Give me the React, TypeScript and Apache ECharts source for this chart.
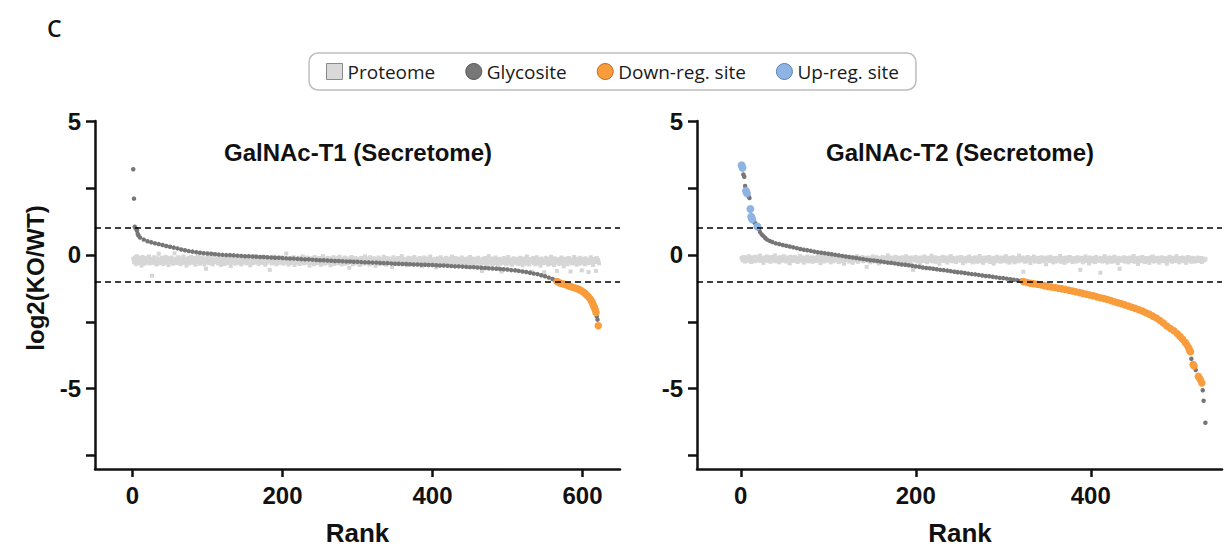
import React, { useEffect, useRef } from "react";
import * as echarts from "echarts";

// ---------- DATA ----------
const X_TICKS_T1 = [0, 200, 400, 600];
const X_TICKS_T2 = [0, 200, 400];
const Y_TICKS = [-7.5, -5, -2.5, 0, 2.5, 5];
const Y_LABELS = [-5, 0, 5];
const THRESHOLDS = [1, -1];

// GalNAc-T1: proteome value for each rank (rank = position + 1)
const T1_PROTEOME = [
  -0.15,-0.28,-0.1,-0.22,-0.35,-0.05,-0.2,-0.3,-0.12,-0.25,-0.18,-0.4,-0.08,-0.27,-0.16,-0.33,-0.21,-0.11,-0.29,-0.19,
  -0.24,-0.06,-0.32,-0.14,-0.22,-0.78,-0.17,-0.3,-0.09,-0.26,-0.2,-0.36,-0.13,-0.23,0.04,-0.31,-0.18,-0.27,-0.11,-0.21,
  -0.34,-0.15,-0.25,-0.07,-0.29,-0.19,-0.12,-0.38,-0.22,-0.16,-0.28,-0.1,-0.24,-0.33,-0.18,0.06,-0.26,-0.14,-0.31,-0.2,
  -0.09,-0.27,-0.17,-0.35,-0.23,-0.13,-0.3,-0.06,-0.21,-0.28,-0.15,-0.4,-0.19,-0.25,-0.11,-0.32,-0.2,-0.08,-0.26,-0.16,
  -0.3,-0.22,-0.12,-0.37,-0.18,-0.27,-0.05,-0.24,-0.14,-0.33,-0.21,-0.1,-0.29,-0.17,-0.23,-0.36,-0.13,-0.52,-0.26,-0.19,
  -0.08,-0.31,-0.2,-0.15,-0.28,-0.11,-0.35,-0.24,-0.18,0.03,-0.27,-0.22,-0.14,-0.32,-0.19,-0.09,-0.25,-0.38,-0.16,-0.29,
  -0.21,-0.12,-0.34,-0.17,-0.26,-0.07,-0.23,-0.3,-0.15,-0.2,-0.42,-0.1,-0.28,-0.18,-0.24,-0.13,-0.33,-0.22,-0.06,-0.27,
  -0.16,-0.3,-0.2,-0.11,-0.36,-0.25,-0.14,-0.29,-0.19,-0.08,-0.23,-0.32,-0.17,-0.27,-0.12,-0.21,-0.39,-0.15,-0.26,-0.1,
  -0.31,-0.18,-0.24,-0.05,-0.28,-0.2,-0.13,-0.34,-0.22,-0.16,-0.27,-0.09,-0.3,-0.19,-0.25,-0.14,-0.37,-0.21,-0.11,-0.29,
  -0.17,-0.23,-0.56,-0.2,-0.12,-0.32,-0.26,-0.15,-0.07,-0.28,-0.19,-0.35,-0.24,-0.13,-0.3,-0.18,-0.22,-0.1,-0.27,-0.16,
  -0.33,-0.21,-0.14,-0.29,0.05,-0.25,-0.18,-0.36,-0.2,-0.12,-0.31,-0.23,-0.16,-0.27,-0.09,-0.38,-0.22,-0.15,-0.3,-0.19,
  -0.26,-0.11,-0.34,-0.2,-0.17,-0.28,-0.06,-0.24,-0.32,-0.14,-0.21,-0.29,-0.1,-0.25,-0.18,-0.4,-0.23,-0.13,-0.3,-0.16,
  -0.22,-0.35,-0.08,-0.27,-0.19,-0.14,-0.31,-0.24,-0.12,-0.2,-0.37,-0.17,-0.28,-0.05,-0.23,-0.33,-0.15,-0.26,-0.21,-0.11,
  -0.3,-0.18,-0.25,-0.39,-0.13,-0.22,-0.29,-0.09,-0.34,-0.2,-0.16,-0.27,-0.12,-0.31,-0.24,-0.07,-0.28,-0.19,-0.36,-0.15,
  -0.21,-0.26,-0.1,-0.33,-0.18,-0.23,-0.3,-0.14,-0.48,-0.2,-0.27,-0.08,-0.25,-0.35,-0.17,-0.22,-0.12,-0.29,-0.19,-0.32,
  -0.15,-0.24,-0.38,-0.2,-0.11,-0.28,-0.17,-0.33,-0.23,-0.06,-0.26,-0.19,-0.31,-0.14,-0.22,-0.36,-0.09,-0.27,-0.18,-0.25,
  -0.3,-0.13,-0.21,-0.41,-0.16,-0.28,-0.24,-0.1,-0.34,-0.19,-0.26,-0.15,-0.22,-0.32,-0.07,-0.29,-0.2,-0.37,-0.12,-0.25,
  -0.18,-0.31,-0.23,-0.14,-0.27,-0.45,-0.2,-0.09,-0.33,-0.24,-0.16,-0.29,-0.21,-0.12,-0.36,-0.26,-0.19,-0.3,-0.05,-0.23,
  -0.28,-0.15,-0.34,-0.22,-0.17,-0.39,-0.25,-0.11,-0.3,-0.2,-0.27,-0.13,-0.32,-0.24,-0.18,-0.08,-0.35,-0.21,-0.28,-0.16,
  -0.23,-0.33,-0.12,-0.26,-0.2,-0.42,-0.17,-0.29,-0.1,-0.24,-0.31,-0.19,-0.36,-0.14,-0.27,-0.22,-0.06,-0.3,-0.18,-0.25,
  -0.35,-0.21,-0.15,-0.28,-0.47,-0.24,-0.13,-0.32,-0.2,-0.26,-0.09,-0.3,-0.18,-0.38,-0.23,-0.16,-0.29,-0.11,-0.25,-0.34,
  -0.19,-0.27,-0.14,-0.31,-0.22,-0.07,-0.36,-0.25,-0.17,-0.29,-0.12,-0.21,-0.4,-0.26,-0.15,-0.32,-0.2,-0.28,-0.1,-0.23,
  -0.3,-0.16,-0.24,-0.37,-0.19,-0.27,-0.13,-0.33,-0.22,-0.08,-0.29,-0.18,-0.35,-0.25,-0.14,-0.31,-0.21,-0.44,-0.17,-0.26,
  -0.11,-0.28,-0.2,-0.34,-0.24,-0.6,-0.15,-0.3,-0.22,-0.12,-0.27,-0.38,-0.18,-0.25,-0.05,-0.32,-0.21,-0.29,-0.14,-0.36,
  -0.23,-0.17,-0.31,-0.1,-0.26,-0.2,-0.41,-0.28,-0.15,-0.33,-0.24,-0.62,-0.19,-0.3,-0.12,-0.27,-0.22,-0.35,-0.16,-0.25,
  -0.08,-0.32,-0.21,-0.29,-0.18,-0.37,-0.26,-0.13,-0.3,-0.2,-0.24,-0.58,-0.15,-0.34,-0.22,-0.28,-0.11,-0.31,-0.19,-0.39,
  -0.25,-0.14,-0.27,-0.21,-0.33,-0.06,-0.29,-0.18,-0.36,-0.23,-0.16,-0.63,-0.26,-0.12,-0.3,-0.2,-0.35,-0.24,-0.09,-0.28,
  -0.17,-0.32,-0.22,-0.4,-0.14,-0.27,-0.19,-0.31,-0.65,-0.25,-0.11,-0.29,-0.2,-0.36,-0.15,-0.23,-0.33,-0.07,-0.28,-0.18,
  -0.26,-0.38,-0.13,-0.3,-0.21,-0.6,-0.24,-0.16,-0.34,-0.2,-0.27,-0.1,-0.31,-0.22,-0.43,-0.18,-0.25,-0.14,-0.29,-0.35,
  -0.2,-0.12,-0.28,-0.62,-0.23,-0.32,-0.17,-0.26,-0.08,-0.3,-0.21,-0.37,-0.15,-0.27,-0.19,-0.33,-0.11,-0.24,-0.58,-0.29,
  -0.16,-0.22,-0.35,-0.13,-0.28,-0.2,-0.31,-0.64,-0.18,-0.25,-0.09,-0.3,-0.23,-0.38,-0.15,-0.27,-0.21,-0.6,-0.12,-0.26,
  -0.19,-0.32,
];

// GalNAc-T1 glycosites: [rank, log2(KO/WT)]
const T1_GLYCOSITE = [
  [1,3.2],[2,2.1],[3,1.05],[4,1.0],[5,0.97],[6,0.9],[7,0.78],[8,0.72],[10,0.65],[15,0.57],
  [20,0.51],[25,0.47],[30,0.43],[35,0.4],[40,0.37],[45,0.33],[50,0.3],[55,0.27],[60,0.24],[65,0.2],
  [70,0.17],[75,0.14],[80,0.12],[85,0.1],[90,0.08],[95,0.06],[100,0.05],[105,0.04],[110,0.02],[115,0.01],
  [120,0.0],[125,-0.01],[130,-0.01],[135,-0.02],[140,-0.03],[145,-0.04],[150,-0.05],[155,-0.05],[160,-0.06],[165,-0.07],
  [170,-0.08],[175,-0.08],[180,-0.09],[185,-0.1],[190,-0.11],[195,-0.11],[200,-0.12],[205,-0.13],[210,-0.14],[215,-0.14],
  [220,-0.15],[225,-0.16],[230,-0.17],[235,-0.17],[240,-0.18],[245,-0.19],[250,-0.2],[255,-0.2],[260,-0.21],[265,-0.22],
  [270,-0.23],[275,-0.23],[280,-0.24],[285,-0.25],[290,-0.25],[295,-0.26],[300,-0.26],[305,-0.27],[310,-0.28],[315,-0.28],
  [320,-0.29],[325,-0.29],[330,-0.3],[335,-0.31],[340,-0.31],[345,-0.32],[350,-0.33],[355,-0.33],[360,-0.34],[365,-0.34],
  [370,-0.35],[375,-0.36],[380,-0.36],[385,-0.37],[390,-0.37],[395,-0.38],[400,-0.38],[405,-0.39],[410,-0.4],[415,-0.4],
  [420,-0.41],[425,-0.42],[430,-0.43],[435,-0.43],[440,-0.44],[445,-0.45],[450,-0.46],[455,-0.46],[460,-0.47],[465,-0.48],
  [470,-0.49],[475,-0.5],[480,-0.51],[485,-0.52],[490,-0.53],[495,-0.54],[500,-0.55],[505,-0.57],[510,-0.58],[515,-0.6],
  [520,-0.62],[525,-0.64],[530,-0.67],[535,-0.7],[540,-0.72],[545,-0.76],[550,-0.8],[555,-0.85],[560,-0.9],[563,-0.95],
  [619,-2.3],[620,-2.42],
];

const T1_DOWN = [
  [566,-1.0],[569,-1.04],[572,-1.07],[575,-1.09],[578,-1.12],[581,-1.15],[584,-1.18],[587,-1.21],[590,-1.24],[593,-1.27],
  [596,-1.3],[599,-1.35],[602,-1.41],[604,-1.46],[606,-1.51],[608,-1.57],[610,-1.64],[612,-1.72],[613,-1.78],[614,-1.85],
  [615,-1.92],[616,-1.98],[617,-2.05],[618,-2.15],[621,-2.65],
];

// GalNAc-T2: proteome value for each rank (rank = position + 1)
const T2_PROTEOME = [
  -0.12,-0.2,-0.08,-0.17,-0.25,-0.1,-0.15,-0.22,-0.05,-0.18,-0.13,-0.27,-0.09,-0.2,-0.14,-0.24,-0.07,-0.16,-0.21,-0.11,
  -0.19,-0.03,-0.23,-0.13,-0.17,-0.3,-0.1,-0.2,-0.15,-0.06,-0.22,-0.12,-0.18,-0.26,-0.08,-0.14,-0.21,-0.16,-0.02,-0.24,
  -0.11,-0.19,-0.14,-0.28,-0.09,-0.17,-0.22,-0.12,-0.05,-0.2,-0.15,-0.25,-0.1,-0.18,-0.13,-0.32,-0.07,-0.21,-0.16,-0.12,
  -0.23,-0.08,-0.17,-0.14,-0.27,-0.11,-0.19,-0.04,-0.22,-0.15,-0.1,-0.29,-0.18,-0.13,-0.2,-0.06,-0.24,-0.16,-0.12,-0.21,
  -0.09,-0.26,-0.14,-0.18,-0.11,-0.23,-0.16,-0.01,-0.2,-0.13,-0.31,-0.08,-0.19,-0.15,-0.25,-0.1,-0.17,-0.22,-0.12,-0.06,
  -0.2,-0.14,-0.28,-0.11,-0.18,-0.24,-0.09,-0.16,-0.21,-0.13,-0.04,-0.27,-0.15,-0.19,-0.1,-0.23,-0.17,-0.33,-0.12,-0.2,
  -0.07,-0.18,-0.14,-0.25,-0.11,-0.21,-0.16,-0.3,-0.09,-0.19,-0.13,-0.22,-0.05,-0.26,-0.15,-0.12,-0.2,-0.17,-0.08,-0.24,
  -0.14,-0.19,-0.11,-0.45,-0.22,-0.1,-0.16,-0.28,-0.13,-0.2,-0.06,-0.18,-0.25,-0.15,-0.09,-0.21,-0.12,-0.32,-0.17,-0.14,
  -0.23,-0.08,-0.19,-0.13,-0.27,-0.11,-0.16,-0.02,-0.21,-0.15,-0.29,-0.1,-0.18,-0.24,-0.12,-0.2,-0.07,-0.17,-0.14,-0.26,
  -0.11,-0.19,-0.15,-0.22,-0.09,-0.3,-0.13,-0.18,-0.05,-0.24,-0.16,-0.12,-0.2,-0.27,-0.1,-0.17,-0.56,-0.14,-0.21,-0.08,
  -0.18,-0.25,-0.12,-0.16,-0.31,-0.1,-0.2,-0.14,-0.23,-0.06,-0.19,-0.13,-0.28,-0.15,-0.11,-0.22,-0.17,-0.03,-0.24,-0.13,
  -0.2,-0.09,-0.26,-0.15,-0.12,-0.18,-0.34,-0.11,-0.21,-0.16,-0.07,-0.23,-0.14,-0.19,-0.1,-0.29,-0.17,-0.13,-0.22,-0.05,
  -0.16,-0.24,-0.12,-0.2,-0.15,-0.27,-0.63,-0.1,-0.18,-0.14,-0.22,-0.08,-0.19,-0.31,-0.13,-0.17,-0.25,-0.11,-0.2,-0.15,
  -0.06,-0.23,-0.14,-0.18,-0.28,-0.12,-0.21,-0.09,-0.16,-0.26,-0.13,-0.19,-0.04,-0.24,-0.15,-0.11,-0.3,-0.17,-0.2,-0.1,
  -0.22,-0.14,-0.18,-0.08,-0.27,-0.13,-0.2,-0.16,-0.33,-0.11,-0.19,-0.24,-0.07,-0.15,-0.21,-0.12,-0.26,-0.17,-0.1,-0.23,
  -0.15,-0.19,-0.05,-0.25,-0.13,-0.2,-0.29,-0.11,-0.17,-0.22,-0.09,-0.16,-0.28,-0.14,-0.2,-0.12,-0.24,-0.03,-0.18,-0.15,
  -0.21,-0.1,-0.63,-0.17,-0.26,-0.13,-0.19,-0.08,-0.23,-0.15,-0.31,-0.12,-0.2,-0.16,-0.06,-0.25,-0.14,-0.18,-0.22,-0.11,
  -0.27,-0.15,-0.19,-0.09,-0.24,-0.13,-0.21,-0.17,-0.35,-0.1,-0.18,-0.14,-0.23,-0.07,-0.2,-0.16,-0.28,-0.12,-0.19,-0.25,
  -0.11,-0.17,-0.22,-0.14,-0.04,-0.26,-0.15,-0.2,-0.12,-0.3,-0.18,-0.1,-0.24,-0.16,-0.21,-0.08,-0.19,-0.13,-0.27,-0.15,
  -0.2,-0.12,-0.25,-0.17,-0.09,-0.22,-0.14,-0.56,-0.19,-0.11,-0.28,-0.16,-0.21,-0.06,-0.23,-0.13,-0.18,-0.32,-0.1,-0.2,
  -0.15,-0.24,-0.12,-0.19,-0.27,-0.08,-0.17,-0.22,-0.14,-0.2,-0.67,-0.11,-0.25,-0.16,-0.18,-0.05,-0.23,-0.13,-0.29,-0.17,
  -0.1,-0.21,-0.15,-0.26,-0.12,-0.19,-0.07,-0.24,-0.14,-0.2,-0.31,-0.11,-0.52,-0.17,-0.22,-0.13,-0.18,-0.09,-0.25,-0.15,
  -0.2,-0.12,-0.28,-0.16,-0.1,-0.23,-0.18,-0.14,-0.04,-0.26,-0.13,-0.21,-0.17,-0.34,-0.11,-0.19,-0.15,-0.24,-0.08,-0.2,
  -0.16,-0.27,-0.12,-0.22,-0.14,-0.18,-0.3,-0.1,-0.2,-0.15,-0.06,-0.25,-0.13,-0.19,-0.23,-0.11,-0.17,-0.29,-0.14,-0.21,
  -0.09,-0.18,-0.24,-0.12,-0.2,-0.16,-0.33,-0.13,-0.22,-0.07,-0.19,-0.15,-0.26,-0.11,-0.18,-0.23,-0.14,-0.05,-0.21,-0.17,
  -0.28,-0.12,-0.2,-0.15,-0.1,-0.24,-0.17,-0.13,-0.3,-0.19,-0.08,-0.22,-0.16,-0.14,-0.26,-0.11,-0.2,-0.18,-0.25,-0.13,
  -0.19,-0.1,-0.23,-0.15,-0.21,-0.12,-0.27,-0.17,-0.14,-0.2,-0.16,
];

const T2_GLYCOSITE = [
  [3,3.0],[4,2.92],[5,2.57],[8,2.25],[9,2.18],[10,2.12],[14,1.28],[15,1.24],[16,1.2],[17,1.15],
  [18,1.1],[20,1.02],[21,0.95],[22,0.85],[24,0.76],[26,0.7],[28,0.63],[30,0.57],[33,0.52],[36,0.48],
  [40,0.43],[44,0.4],[48,0.37],[52,0.34],[56,0.31],[60,0.28],[64,0.25],[68,0.22],[72,0.19],[76,0.17],
  [80,0.15],[84,0.12],[88,0.1],[92,0.08],[96,0.06],[100,0.04],[104,0.02],[108,0.0],[112,-0.02],[116,-0.04],
  [120,-0.06],[124,-0.08],[128,-0.1],[132,-0.12],[136,-0.14],[140,-0.16],[144,-0.18],[148,-0.2],[152,-0.21],[156,-0.23],
  [160,-0.25],[164,-0.27],[168,-0.29],[172,-0.3],[176,-0.32],[180,-0.34],[184,-0.36],[188,-0.37],[192,-0.39],[196,-0.41],
  [200,-0.43],[204,-0.45],[208,-0.47],[212,-0.49],[216,-0.5],[220,-0.52],[224,-0.54],[228,-0.56],[232,-0.57],[236,-0.59],
  [240,-0.61],[244,-0.63],[248,-0.65],[252,-0.66],[256,-0.68],[260,-0.7],[264,-0.72],[268,-0.73],[272,-0.75],[276,-0.77],
  [280,-0.79],[284,-0.8],[288,-0.82],[292,-0.84],[296,-0.86],[300,-0.87],[304,-0.89],[308,-0.91],[312,-0.93],[316,-0.95],
  [320,-0.97],[515,-3.88],[520,-4.3],[528,-5.06],[529,-5.45],[531,-6.27],
];

const T2_DOWN = [
  [323,-1.0],[327,-1.03],[331,-1.06],[335,-1.08],[339,-1.1],[343,-1.12],[347,-1.15],[351,-1.18],[355,-1.2],[359,-1.22],
  [363,-1.25],[367,-1.27],[371,-1.29],[375,-1.32],[379,-1.35],[383,-1.38],[387,-1.41],[391,-1.44],[395,-1.47],[399,-1.5],
  [403,-1.53],[407,-1.57],[411,-1.6],[415,-1.63],[419,-1.67],[423,-1.71],[427,-1.75],[431,-1.79],[435,-1.83],[439,-1.87],
  [443,-1.91],[447,-1.96],[451,-2.0],[455,-2.05],[459,-2.1],[463,-2.16],[467,-2.22],[471,-2.29],[475,-2.36],[479,-2.45],
  [483,-2.55],[487,-2.66],[491,-2.75],[495,-2.84],[499,-2.95],[502,-3.05],[505,-3.15],[508,-3.27],[510,-3.37],[512,-3.48],
  [513,-3.57],[514,-3.62],[517,-4.1],[518,-4.15],[523,-4.54],[525,-4.65],[527,-4.79],
];

const T2_UP = [[1,3.35],[2,3.25],[6,2.39],[7,2.3],[11,1.71],[12,1.42],[13,1.33],[19,1.06]];

// ---------- STYLE ----------
const C_PROT = "#d6d6d6";
const C_GLY = "#767676";
const C_DOWN = "#f89c3c";
const C_UP = "#8db4e2";
const AX = "#111111";
const SANS = "'Liberation Sans', Arial, sans-serif";
const LEG = "'Open Sans', 'Noto Sans', sans-serif";

function xAxisCfg(gridIndex: number, min: number, max: number, ticks: number[]) {
  return {
    type: "value", gridIndex, min, max,
    axisLine: { show: true, onZero: false, lineStyle: { color: AX, width: 2.5 } },
    axisTick: { show: true, length: 8, customValues: ticks, lineStyle: { color: AX, width: 2.5 } },
    axisLabel: { customValues: ticks, margin: 14, color: AX, fontSize: 24, fontWeight: "bold", fontFamily: SANS },
    splitLine: { show: false },
  };
}
function yAxisCfg(gridIndex: number) {
  return {
    type: "value", gridIndex, min: -8, max: 5,
    axisLine: { show: true, onZero: false, lineStyle: { color: AX, width: 2.5 } },
    axisTick: { show: true, length: 9, customValues: Y_TICKS, lineStyle: { color: AX, width: 2.5 } },
    axisLabel: { customValues: Y_LABELS, margin: 14, color: AX, fontSize: 24, fontWeight: "bold", fontFamily: SANS },
    splitLine: { show: false },
  };
}
function scatter(name: string, data: number[][], idx: number, symbol: string, size: number, color: string, z: number, extra: any = {}) {
  return {
    type: "scatter", name, data, xAxisIndex: idx, yAxisIndex: idx,
    symbol, symbolSize: size, z, silent: true,
    itemStyle: { color, opacity: 1 },
    ...extra,
  };
}
const markLine = {
  silent: true,
  symbol: ["none", "none"],
  label: { show: false },
  lineStyle: { color: "#000", type: [6, 4], width: 1.6 },
  data: THRESHOLDS.map((v) => ({ yAxis: v })),
};

export default function App() {
  const ref = useRef<HTMLDivElement>(null);
  useEffect(() => {
    if (!ref.current) return;
    const chart = echarts.init(ref.current, undefined, { renderer: "svg" });
    const t1p = T1_PROTEOME.map((v, i) => [i + 1, v]);
    const t2p = T2_PROTEOME.map((v, i) => [i + 1, v]);
    chart.setOption({
      animation: false,
      backgroundColor: "#ffffff",
      grid: [
        { left: 95, top: 121, width: 525, height: 348 },
        { left: 697, top: 121, width: 525, height: 348 },
      ],
      xAxis: [xAxisCfg(0, -50, 650, X_TICKS_T1), xAxisCfg(1, -50, 550, X_TICKS_T2)],
      yAxis: [yAxisCfg(0), yAxisCfg(1)],
      legend: {
        left: "center", top: 53,
        orient: "horizontal",
        padding: [9, 17, 9, 17],
        itemGap: 30,
        itemWidth: 16, itemHeight: 16,
        borderColor: "#bdbdbd", borderWidth: 1.5, borderRadius: 9,
        backgroundColor: "#ffffff",
        textStyle: { fontFamily: LEG, fontSize: 19, color: "#1a1a1a" },
        selectedMode: false,
        data: [
          { name: "Proteome", icon: "rect", itemStyle: { color: "#d9d9d9", borderColor: "#8a8a8a", borderWidth: 1 } },
          { name: "Glycosite", icon: "circle", itemStyle: { color: "#777777", borderColor: "#555555", borderWidth: 1 } },
          { name: "Down-reg. site", icon: "circle", itemStyle: { color: C_DOWN, borderColor: "#c06a1c", borderWidth: 1 } },
          { name: "Up-reg. site", icon: "circle", itemStyle: { color: C_UP, borderColor: "#5a80b0", borderWidth: 1 } },
        ],
      },
      series: [
        scatter("Proteome", t1p, 0, "rect", 4, C_PROT, 1, { markLine }),
        scatter("Glycosite", T1_GLYCOSITE, 0, "circle", 4.5, C_GLY, 2),
        scatter("Down-reg. site", T1_DOWN, 0, "circle", 7.5, C_DOWN, 3),
        scatter("Proteome", t2p, 1, "rect", 4, C_PROT, 1, { markLine }),
        scatter("Glycosite", T2_GLYCOSITE, 1, "circle", 4.5, C_GLY, 2),
        scatter("Down-reg. site", T2_DOWN, 1, "circle", 7.5, C_DOWN, 3),
        scatter("Up-reg. site", T2_UP, 1, "circle", 8, C_UP, 3),
      ],
      graphic: [
        { type: "text", left: 47, top: 16, style: { text: "C", font: `600 23px ${LEG}`, fill: "#111" } },
        { type: "text", x: 35, y: 278, rotation: Math.PI / 2,
          style: { text: "log2(KO/WT)", font: `bold 24px ${SANS}`, fill: "#111", textAlign: "center", textVerticalAlign: "middle" } },
        { type: "text", x: 358, y: 152,
          style: { text: "GalNAc-T1 (Secretome)", font: `bold 24px ${SANS}`, fill: "#111", textAlign: "center", textVerticalAlign: "middle" } },
        { type: "text", x: 960, y: 152,
          style: { text: "GalNAc-T2 (Secretome)", font: `bold 24px ${SANS}`, fill: "#111", textAlign: "center", textVerticalAlign: "middle" } },
        { type: "text", x: 357.5, y: 533,
          style: { text: "Rank", font: `bold 26px ${SANS}`, fill: "#111", textAlign: "center", textVerticalAlign: "middle" } },
        { type: "text", x: 960, y: 533,
          style: { text: "Rank", font: `bold 26px ${SANS}`, fill: "#111", textAlign: "center", textVerticalAlign: "middle" } },
      ],
    });
    return () => chart.dispose();
  }, []);
  return <div ref={ref} style={{ position: "fixed", left: 0, top: 0, width: 1225, height: 550 }} />;
}
